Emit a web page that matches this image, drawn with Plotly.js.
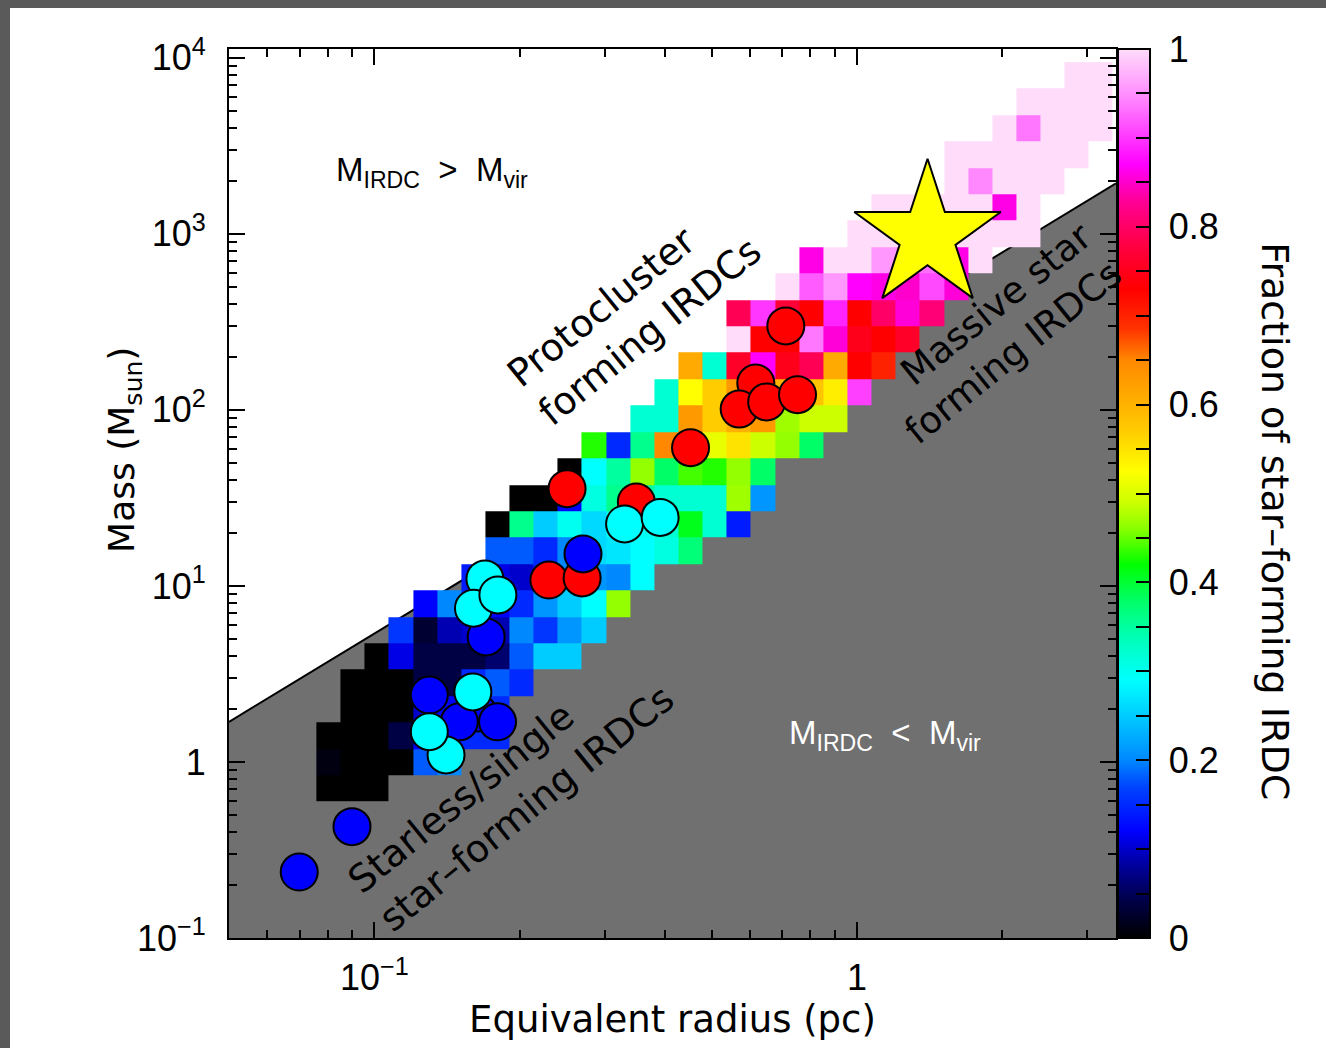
<!DOCTYPE html>
<html><head><meta charset="utf-8">
<script src="https://cdn.plot.ly/plotly-3.0.1.min.js"></script>
<style>
html,body{margin:0;padding:0;background:#5a5a5a;width:1326px;height:1048px;overflow:hidden;}
#chart{position:absolute;left:10px;top:8px;width:1316px;height:1040px;background:#fff;}
</style></head><body>
<div id="chart"></div>
<script>
// ---- grid of the fraction map (log10 bin edges) ----
const logRadiusStart = -1.12, logRadiusStep = 0.05, nRadiusBins = 33;
const logMassTop = 3.975, logMassStep = 0.15, nMassBins = 28;

// each mass row (from top = highest mass) : first radius bin index and fractions
const rowFirstBin = [31,29,28,26,26,23,22,20,19,17,17,15,14,13,11,10,8,7,7,6,4,3,2,1,1,0,0,0];
const rowFractions = [
  [1,1],
  [1,1,1,1],
  [1,0.935,1,1,1],
  [1,1,1,1,1,1],
  [1,0.945,1,1,1],
  [1,1,1,1,1,0.86,1],
  [1,1,1,1,1,1,1,1],
  [0.86,1,1,0.955,0.95,0.93,0.86,1],
  [1,0.92,0.955,0.87,0.86,0.85,0.91,0.855],
  [0.79,0.9,0.77,0.73,0.89,0.73,0.8,0.855,0.81],
  [1,0.73,0.73,0.935,0.855,0.75,0.73,0.76],
  [0.61,0.32,0.76,0.87,0.75,0.79,0.61,0.73,0.7],
  [0.32,0.525,0.57,0.63,0.65,0.6,0.58,0.54,0.905],
  [0.32,0.32,0.63,0.57,0.6,0.63,0.47,0.49,0.49],
  [0.43,0.15,0.36,0.65,0.6,0.51,0.55,0.49,0.465,0.38],
  [0,0.29,0.35,0.465,0.38,0.44,0.43,0.465,0.38],
  [0,0,0.12,0.31,0.36,0.35,0.32,0.32,0.32,0.47,0.21],
  [0,0.36,0.25,0.3,0.26,0.3,0.3,0.32,0.41,0.32,0.14],
  [0.18,0.18,0.15,0.2,0.26,0.27,0.29,0.31,0.37],
  [0.14,0.11,0.1,0.15,0.2,0.21,0.2,0.29],
  [0.12,0.2,0.15,0.12,0.15,0.21,0.25,0.29,0.465],
  [0.16,0.03,0.09,0.1,0.09,0.2,0.16,0.21,0.25],
  [0,0.11,0.04,0.04,0.04,0.06,0.18,0.25,0.25],
  [0,0,0,0.04,0.04,0.15,0.18,0.15],
  [0,0,0,0.1,0.12,0.15,0.15],
  [0,0,0,0.04,0.12,0.12,0.15,0.15],
  [0.01,0,0,0,0.18,0.2],
  [0,0,0]
];

// ---- individual IRDCs ----
const redRadius = [0.617,0.570,0.650,0.753,0.712,0.452,0.2508,0.349,0.230,0.2695];
const redMass   = [142,101,111,122,300,61,35.7,30,10.8,11.1];
const blueRadius = [0.0699,0.0899,0.1705,0.130,0.164,0.150,0.180,0.2706];
const blueMass   = [0.237,0.429,5.13,2.40,1.90,1.69,1.69,15.2];
const cyanRadius = [0.330,0.391,0.1695,0.1605,0.1803,0.160,0.1408,0.130];
const cyanMass   = [22.5,24.5,10.96,7.47,8.89,2.50,1.096,1.486];
const starRadius = [1.40];
const starMass   = [975];

// virial mass boundary
const virialRadius = [0.05, 3.44];
const virialMass   = [1.69, 1935];

// axis ticks
const massTickVals = [0.1,1,10,100,1000,10000];
const massTickText = ['10<sup>\u22121</sup>','1','10<sup>1</sup>','10<sup>2</sup>','10<sup>3</sup>','10<sup>4</sup>'];
const radiusTickVals = [0.1,1];
const radiusTickText = ['10<sup>\u22121</sup>','1'];

// ---- build heatmap arrays ----
const xEdges = [];
for (let i = 0; i <= nRadiusBins; i++) xEdges.push(Math.pow(10, logRadiusStart + logRadiusStep * i));
const yEdges = [];
for (let j = nMassBins; j >= 0; j--) yEdges.push(Math.pow(10, logMassTop - logMassStep * j));
const z = [];
for (let j = nMassBins - 1; j >= 0; j--) {
  const row = new Array(nRadiusBins).fill(null);
  rowFractions[j].forEach((v, k) => { row[rowFirstBin[j] + k] = v; });
  z.push(row);
}

function minorTicks(lo, hi) {
  const out = [];
  for (let d = lo; d < hi; d++) for (let m = 2; m <= 9; m++) out.push(m * Math.pow(10, d));
  return out;
}
const NB = '\u00a0';
const cbVals = [], cbText = [];
for (let k = 0; k <= 20; k++) {
  const v = k * 0.05;
  cbVals.push(+v.toFixed(2));
  cbText.push(k % 4 === 0 ? NB + (k === 0 ? '0' : k === 20 ? '1' : v.toFixed(1)) : '');
}

const FONT = 'Liberation Sans, Arial, sans-serif';
const FONT2 = 'DejaVu Sans, Verdana, sans-serif';
const colorscale = [
  [0,'#000000'],[0.04,'#000044'],[0.08,'#000099'],[0.12,'#0000ff'],[0.17,'#0044ff'],
  [0.2,'#0088ff'],[0.25,'#00ccff'],[0.29,'#00ffff'],[0.335,'#00ffbb'],[0.38,'#00ff66'],
  [0.42,'#00ff00'],[0.46,'#88ff00'],[0.49,'#ccff00'],[0.525,'#ffff00'],[0.57,'#ffcc00'],
  [0.61,'#ffaa00'],[0.65,'#ff8800'],[0.685,'#ff3300'],[0.73,'#ff0000'],[0.78,'#ff0044'],
  [0.83,'#ff0099'],[0.87,'#ff00ff'],[0.945,'#ff88ff'],[1,'#ffdcfa']
];

const traces = [
  { // sub-virial region (main subplot, drawn underneath)
    type:'scatter', mode:'lines', xaxis:'x', yaxis:'y',
    x:[virialRadius[0], virialRadius[0], virialRadius[1], virialRadius[1]],
    y:[0.1, virialMass[0], virialMass[1], 0.1], fill:'toself', fillcolor:'#707070',
    line:{width:0, color:'#707070'}, hoverinfo:'skip'
  },
  {
    type:'scatter', mode:'lines', xaxis:'x', yaxis:'y', x:virialRadius, y:virialMass,
    line:{color:'#000', width:2}, hoverinfo:'skip'
  },
  { // fraction map on the overlaid (identical) log axes so it sits above the gray region
    type:'heatmap', xaxis:'x2', yaxis:'y2', x:xEdges, y:yEdges, z:z, zmin:0, zmax:1, colorscale:colorscale,
    hoverinfo:'skip',
    colorbar:{
      x:1.002, xanchor:'left', xpad:0, y:0.5, yanchor:'middle', ypad:0, len:1, lenmode:'fraction',
      thickness:32, thicknessmode:'pixels', outlinewidth:2, outlinecolor:'#000',
      ticks:'inside', ticklen:15, tickwidth:2, tickcolor:'#000',
      tickmode:'array', tickvals:cbVals, ticktext:cbText,
      tickfont:{family:FONT, size:36, color:'#000'}
    }
  },
  {
    type:'scatter', mode:'markers', xaxis:'x2', yaxis:'y2', x:redRadius, y:redMass,
    marker:{symbol:'circle', size:37, color:'#ff0000', line:{color:'#000', width:2}}, hoverinfo:'skip'
  },
  {
    type:'scatter', mode:'markers', xaxis:'x2', yaxis:'y2', x:blueRadius, y:blueMass,
    marker:{symbol:'circle', size:37, color:'#0000ff', line:{color:'#000', width:2}}, hoverinfo:'skip'
  },
  {
    type:'scatter', mode:'markers', xaxis:'x2', yaxis:'y2', x:cyanRadius, y:cyanMass,
    marker:{symbol:'circle', size:37, color:'#00ffff', line:{color:'#000', width:2}}, hoverinfo:'skip'
  },
  {
    type:'scatter', mode:'markers', xaxis:'x2', yaxis:'y2', x:starRadius, y:starMass,
    marker:{symbol:'star', size:110, color:'#ffff00', line:{color:'#000', width:2}}, hoverinfo:'skip'
  }
];

const xRange = [Math.log10(0.05), Math.log10(3.44)];
const yRange = [-1, 4.05];
const axisCommon = {
  type:'log', showgrid:false, zeroline:false, showline:true, linecolor:'#000', linewidth:2,
  mirror:'ticks', ticks:'inside', ticklen:16, tickwidth:2, tickcolor:'#000',
  tickfont:{family:FONT, size:36, color:'#000'}, tickmode:'array'
};
const layout = {
  width:1316, height:1040,
  margin:{l:219, r:210, t:41, b:110, pad:0},
  paper_bgcolor:'#fff', plot_bgcolor:'#fff', showlegend:false, hovermode:false,
  font:{family:FONT, color:'#000'},
  xaxis: Object.assign({}, axisCommon, {
    range:xRange,
    tickvals:radiusTickVals, ticktext:radiusTickText, ticklabelstandoff:7,
    minor:{tickvals:minorTicks(-2,1), ticks:'inside', ticklen:8, tickwidth:2, tickcolor:'#000'},
    title:{text:'Equivalent radius (pc)', font:{family:FONT2, size:37, color:'#000'}, standoff:0}
  }),
  yaxis: Object.assign({}, axisCommon, {
    range:yRange,
    tickvals:massTickVals, ticktext:massTickText, ticklabelstandoff:14,
    minor:{tickvals:minorTicks(-1,5), ticks:'inside', ticklen:8, tickwidth:2, tickcolor:'#000'}
  }),
  xaxis2:{type:'log', overlaying:'x', range:xRange, visible:false, showgrid:false, zeroline:false},
  yaxis2:{type:'log', overlaying:'y', range:yRange, visible:false, showgrid:false, zeroline:false},
  annotations:[
    {xref:'paper', yref:'paper', x:-0.1173, y:0.549, xanchor:'center', yanchor:'middle', showarrow:false,
     textangle:-90, text:'Mass (M<sub>sun</sub>)', font:{family:FONT2, size:36, color:'#000'}},
    {xref:'paper', yref:'paper', x:0.2289, y:0.8616, xanchor:'center', yanchor:'middle', showarrow:false,
     text:'M<sub>IRDC</sub>' + NB+NB+'>'+NB+NB + 'M<sub>vir</sub>', font:{size:33, color:'#000'}},
    {xref:'paper', yref:'paper', x:0.7396, y:0.2283, xanchor:'center', yanchor:'middle', showarrow:false,
     text:'M<sub>IRDC</sub>' + NB+NB+'<'+NB+NB + 'M<sub>vir</sub>', font:{size:33, color:'#fff'}},
    {xref:'paper', yref:'paper', x:0.4577, y:0.7042, xanchor:'center', yanchor:'middle', showarrow:false,
     textangle:-39, align:'left',
     text:'Protocluster<br>forming' + NB + 'IRDCs', font:{family:FONT2, size:38, color:'#000'}},
    {xref:'paper', yref:'paper', x:0.8672, y:0.6805, xanchor:'center', yanchor:'middle', showarrow:false,
     textangle:-39, align:'right',
     text:'Massive star<br>forming' + NB + 'IRDCs', font:{family:FONT2, size:37, color:'#000'}},
    {xref:'paper', yref:'paper', x:0.3168, y:0.1676, xanchor:'center', yanchor:'middle', showarrow:false,
     textangle:-39, align:'left',
     text:'Starless/single<br>star\u2013forming' + NB + 'IRDCs', font:{family:FONT2, size:38, color:'#000'}},
    {xref:'paper', yref:'paper', x:1.179, y:0.469, xanchor:'center', yanchor:'middle', showarrow:false,
     textangle:90, text:'Fraction of star\u2013forming IRDC', font:{family:FONT2, size:38, color:'#000'}}
  ]
};
Plotly.newPlot('chart', traces, layout, {displayModeBar:false, staticPlot:true});
</script>
</body></html>
